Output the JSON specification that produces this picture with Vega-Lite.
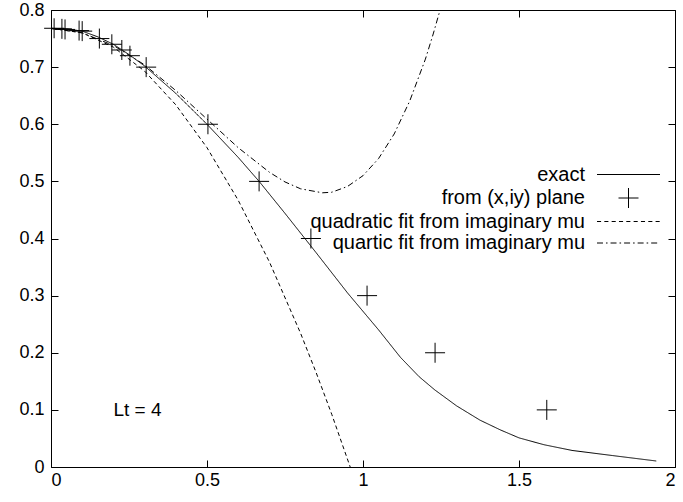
{
  "$schema": "https://vega.github.io/schema/vega-lite/v6.json",
  "width": 624,
  "height": 457,
  "autosize": "none",
  "padding": {"left": 51, "top": 10, "right": 8, "bottom": 35},
  "background": "white",
  "config": {
    "view": {"stroke": "black", "strokeWidth": 1},
    "font": "Liberation Sans",
    "axis": {
      "domain": false,
      "grid": false,
      "tickColor": "black",
      "tickSize": -7,
      "tickWidth": 1,
      "labelColor": "black",
      "labelFont": "Liberation Sans",
      "labelFontSize": 18,
      "title": null,
      "format": "~g"
    }
  },
  "datasets": {
    "curves": [
      {"series": "exact", "x": 0, "y": 0.768},
      {"series": "exact", "x": 0.05, "y": 0.767},
      {"series": "exact", "x": 0.1, "y": 0.763},
      {"series": "exact", "x": 0.15, "y": 0.753},
      {"series": "exact", "x": 0.2, "y": 0.74},
      {"series": "exact", "x": 0.25, "y": 0.722},
      {"series": "exact", "x": 0.3, "y": 0.702},
      {"series": "exact", "x": 0.4, "y": 0.654},
      {"series": "exact", "x": 0.5, "y": 0.6},
      {"series": "exact", "x": 0.6, "y": 0.542},
      {"series": "exact", "x": 0.667, "y": 0.5},
      {"series": "exact", "x": 0.75, "y": 0.444},
      {"series": "exact", "x": 0.85, "y": 0.375},
      {"series": "exact", "x": 0.95, "y": 0.305},
      {"series": "exact", "x": 1.05, "y": 0.24},
      {"series": "exact", "x": 1.12, "y": 0.192},
      {"series": "exact", "x": 1.18, "y": 0.158},
      {"series": "exact", "x": 1.23, "y": 0.135},
      {"series": "exact", "x": 1.3, "y": 0.107},
      {"series": "exact", "x": 1.375, "y": 0.082},
      {"series": "exact", "x": 1.44, "y": 0.065},
      {"series": "exact", "x": 1.5, "y": 0.051},
      {"series": "exact", "x": 1.58, "y": 0.039},
      {"series": "exact", "x": 1.67, "y": 0.029},
      {"series": "exact", "x": 1.8, "y": 0.02},
      {"series": "exact", "x": 1.94, "y": 0.0105},
      {"series": "quadratic", "x": 0, "y": 0.768},
      {"series": "quadratic", "x": 0.1, "y": 0.76},
      {"series": "quadratic", "x": 0.2, "y": 0.735},
      {"series": "quadratic", "x": 0.3, "y": 0.693},
      {"series": "quadratic", "x": 0.4, "y": 0.634},
      {"series": "quadratic", "x": 0.5, "y": 0.559},
      {"series": "quadratic", "x": 0.6, "y": 0.467},
      {"series": "quadratic", "x": 0.7, "y": 0.359},
      {"series": "quadratic", "x": 0.8, "y": 0.234},
      {"series": "quadratic", "x": 0.85, "y": 0.165},
      {"series": "quadratic", "x": 0.9, "y": 0.092},
      {"series": "quadratic", "x": 0.959, "y": 0},
      {"series": "quartic", "x": 0, "y": 0.768},
      {"series": "quartic", "x": 0.1, "y": 0.76},
      {"series": "quartic", "x": 0.2, "y": 0.738},
      {"series": "quartic", "x": 0.3, "y": 0.704},
      {"series": "quartic", "x": 0.4, "y": 0.659},
      {"series": "quartic", "x": 0.5, "y": 0.609},
      {"series": "quartic", "x": 0.6, "y": 0.559},
      {"series": "quartic", "x": 0.7, "y": 0.516},
      {"series": "quartic", "x": 0.75, "y": 0.499},
      {"series": "quartic", "x": 0.8, "y": 0.487},
      {"series": "quartic", "x": 0.87, "y": 0.48},
      {"series": "quartic", "x": 0.9, "y": 0.481},
      {"series": "quartic", "x": 0.95, "y": 0.491},
      {"series": "quartic", "x": 1.0, "y": 0.51},
      {"series": "quartic", "x": 1.05, "y": 0.54},
      {"series": "quartic", "x": 1.1, "y": 0.583},
      {"series": "quartic", "x": 1.15, "y": 0.641},
      {"series": "quartic", "x": 1.2, "y": 0.714},
      {"series": "quartic", "x": 1.225, "y": 0.758},
      {"series": "quartic", "x": 1.247, "y": 0.8}
    ],
    "points": [
      {"series": "from (x,iy) plane", "x": 0.01, "y": 0.768},
      {"series": "from (x,iy) plane", "x": 0.035, "y": 0.767},
      {"series": "from (x,iy) plane", "x": 0.045, "y": 0.766},
      {"series": "from (x,iy) plane", "x": 0.09, "y": 0.764},
      {"series": "from (x,iy) plane", "x": 0.1, "y": 0.763},
      {"series": "from (x,iy) plane", "x": 0.155, "y": 0.75},
      {"series": "from (x,iy) plane", "x": 0.195, "y": 0.74},
      {"series": "from (x,iy) plane", "x": 0.227, "y": 0.73},
      {"series": "from (x,iy) plane", "x": 0.253, "y": 0.72},
      {"series": "from (x,iy) plane", "x": 0.305, "y": 0.7},
      {"series": "from (x,iy) plane", "x": 0.503, "y": 0.6},
      {"series": "from (x,iy) plane", "x": 0.667, "y": 0.5},
      {"series": "from (x,iy) plane", "x": 0.833, "y": 0.4},
      {"series": "from (x,iy) plane", "x": 1.013, "y": 0.3},
      {"series": "from (x,iy) plane", "x": 1.231, "y": 0.2},
      {"series": "from (x,iy) plane", "x": 1.589, "y": 0.1}
    ],
    "labels": [
      {"x": 0.2, "y": 0.1, "text": "Lt = 4"}
    ]
  },
  "layer": [
    {
      "data": {"name": "curves"},
      "mark": {"type": "line", "color": "black", "strokeWidth": 1, "clip": true},
      "encoding": {
        "x": {"field": "x", "type": "quantitative", "scale": {"domain": [0, 2], "nice": false, "zero": false},
              "axis": {"orient": "bottom", "values": [0, 0.5, 1, 1.5, 2], "labelPadding": 11}},
        "y": {"field": "y", "type": "quantitative", "scale": {"domain": [0, 0.8], "nice": false, "zero": false},
              "axis": {"orient": "left", "values": [0, 0.1, 0.2, 0.3, 0.4, 0.5, 0.6, 0.7, 0.8], "labelPadding": 14}},
        "strokeDash": {"field": "series", "type": "nominal",
                       "scale": {"domain": ["exact", "quadratic", "quartic"], "range": [[1, 0], [4, 3], [6, 3, 1.5, 3]]},
                       "legend": null},
        "detail": {"field": "series"}
      }
    },
    {
      "data": {"name": "points"},
      "mark": {"type": "point", "filled": false, "color": "black", "strokeWidth": 1, "opacity": 1, "size": 400},
      "encoding": {
        "x": {"field": "x", "type": "quantitative",
              "axis": {"orient": "top", "values": [0, 0.5, 1, 1.5, 2], "labels": false}},
        "y": {"field": "y", "type": "quantitative",
              "axis": {"orient": "right", "values": [0, 0.1, 0.2, 0.3, 0.4, 0.5, 0.6, 0.7, 0.8], "labels": false}},
        "shape": {
          "field": "series", "type": "nominal",
          "scale": {
            "domain": ["exact", "from (x,iy) plane", "quadratic fit from imaginary mu", "quartic fit from imaginary mu"],
            "range": [
              "M-3.15,0H3.15",
              "M-1,0H1M0,-1V1",
              "M-3.15,0H-2.7405M-2.4176,0H-2.0081M-1.6853,0H-1.2758M-0.9529,0H-0.5434M-0.2205,0H0.189M0.5119,0H0.9214M1.2443,0H1.6538M1.9766,0H2.3861M2.709,0H3.1185",
              "M-3.15,0H-2.5515M-2.2523,0H-2.0948M-1.7955,0H-1.197M-0.8978,0H-0.7403M-0.441,0H0.1575M0.4568,0H0.6143M0.9135,0H1.512M1.8113,0H1.9688M2.268,0H2.8665"
            ]
          },
          "legend": {
            "title": null,
            "orient": "none",
            "legendX": 567,
            "legendY": 154,
            "padding": 0,
            "symbolOffset": 0,
            "symbolSize": 400,
            "symbolStrokeColor": "black",
            "symbolStrokeWidth": 1,
            "symbolFillColor": "transparent",
            "symbolOpacity": 1,
            "labelAlign": "right",
            "labelOffset": -54,
            "labelFont": "Liberation Sans",
            "labelFontSize": 20,
            "labelColor": "black",
            "labelLimit": 500,
            "rowPadding": 0.5
          }
        }
      }
    },
    {
      "data": {"name": "labels"},
      "mark": {"type": "text", "align": "left", "baseline": "middle", "font": "Liberation Sans", "fontSize": 19, "color": "black"},
      "encoding": {
        "x": {"field": "x", "type": "quantitative", "axis": null},
        "y": {"field": "y", "type": "quantitative", "axis": null},
        "text": {"field": "text"}
      }
    }
  ],
  "resolve": {"axis": {"x": "independent", "y": "independent"}}
}
